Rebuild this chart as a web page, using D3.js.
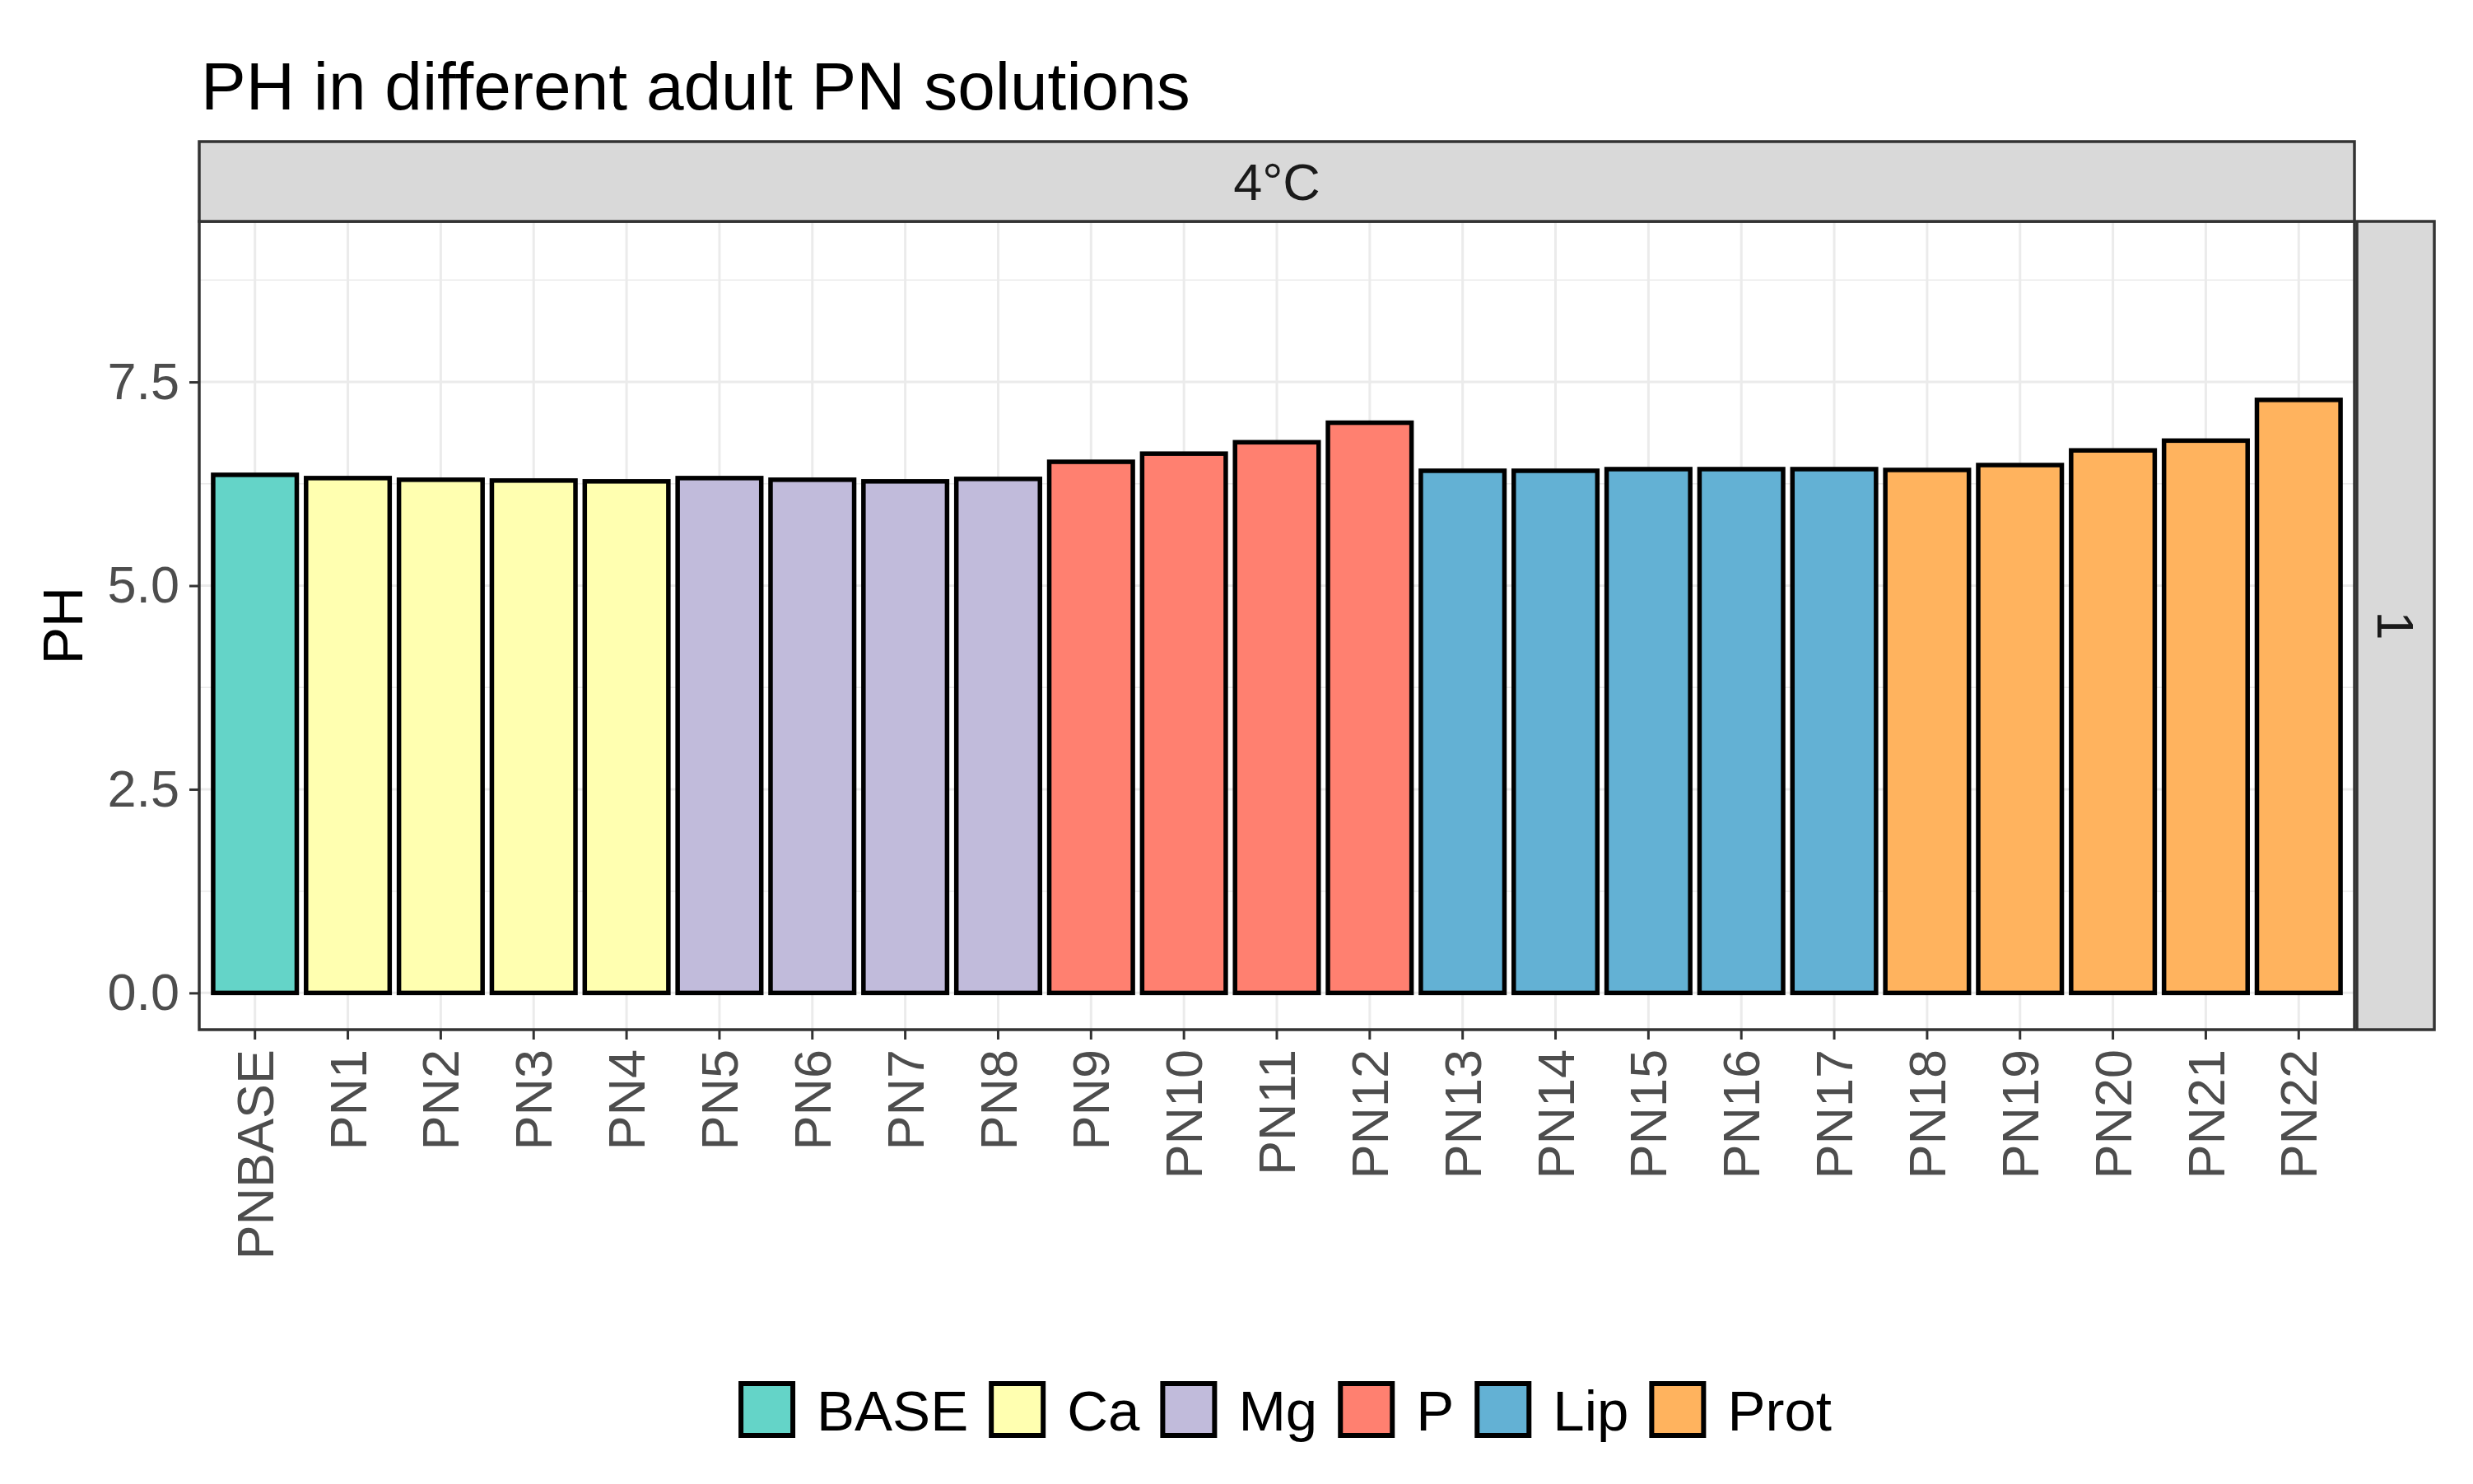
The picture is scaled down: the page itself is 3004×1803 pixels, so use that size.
<html>
<head>
	<meta charset="utf-8">
	<script src="https://cdn.jsdelivr.net/npm/d3@7/dist/d3.min.js" type="text/javascript"></script>
	<style>
		body { margin: 0; background: #fff; }
		text { font-family: "Liberation Sans", Arial, sans-serif; }
	</style>
</head>
<body>
	<div id="chart"></div>
<script>
	// values
	var solutions = ["PNBASE", "PN1", "PN2", "PN3", "PN4", "PN5", "PN6", "PN7", "PN8", "PN9", "PN10", "PN11",
		"PN12", "PN13", "PN14", "PN15", "PN16", "PN17", "PN18", "PN19", "PN20", "PN21", "PN22"];
	var phValues = [6.36, 6.32, 6.30, 6.29, 6.28, 6.32, 6.30, 6.28, 6.31, 6.52, 6.62, 6.76,
		7.00, 6.41, 6.41, 6.43, 6.43, 6.43, 6.42, 6.48, 6.66, 6.78, 7.28];
	var groupOf = ["BASE", "Ca", "Ca", "Ca", "Ca", "Mg", "Mg", "Mg", "Mg", "P", "P", "P",
		"P", "Lip", "Lip", "Lip", "Lip", "Lip", "Prot", "Prot", "Prot", "Prot", "Prot"];
	var groups = ["BASE", "Ca", "Mg", "P", "Lip", "Prot"];
	var groupColors = ["#64D4C8", "#FFFFB0", "#C1BBDB", "#FF8070", "#63B1D4", "#FFB35E"];
	var yTicks = [0, 2.5, 5, 7.5];
	var yMinorTicks = [1.25, 3.75, 6.25, 8.75];
	var titleText = "PH in different adult PN solutions";
	var facetCol = "4°C";
	var facetRow = "1";

	var W = 3004, H = 1803;
	var panel = {left: 242, right: 2860, top: 269, bottom: 1251};

	var svg = d3.select("#chart").append("svg")
		.attr("width", W)
		.attr("height", H);

	var x = d3.scaleBand()
		.domain(solutions)
		.range([panel.left, panel.right])
		.paddingInner(0.1)
		.paddingOuter(0.15);

	var y = d3.scaleLinear()
		.domain([-0.451, 9.471])
		.range([panel.bottom, panel.top]);

	var color = d3.scaleOrdinal().domain(groups).range(groupColors);

	var data = solutions.map(function(s, i) {
		return {name: s, value: phValues[i], group: groupOf[i]};
	});

	// title
	svg.append("text")
		.attr("x", 244)
		.attr("y", 133)
		.attr("font-size", 82)
		.attr("fill", "#000")
		.text(titleText);

	// grid
	var grid = svg.append("g");
	grid.selectAll(".minor").data(yMinorTicks).enter().append("line")
		.attr("x1", panel.left).attr("x2", panel.right)
		.attr("y1", function(d) { return y(d); })
		.attr("y2", function(d) { return y(d); })
		.attr("stroke", "#EBEBEB").attr("stroke-width", 1.5);
	grid.selectAll(".major").data(yTicks).enter().append("line")
		.attr("x1", panel.left).attr("x2", panel.right)
		.attr("y1", function(d) { return y(d); })
		.attr("y2", function(d) { return y(d); })
		.attr("stroke", "#EBEBEB").attr("stroke-width", 3);
	grid.selectAll(".vmajor").data(solutions).enter().append("line")
		.attr("x1", function(d) { return x(d) + x.bandwidth() / 2; })
		.attr("x2", function(d) { return x(d) + x.bandwidth() / 2; })
		.attr("y1", panel.top).attr("y2", panel.bottom)
		.attr("stroke", "#EBEBEB").attr("stroke-width", 3);

	// bars
	svg.append("g").selectAll("rect").data(data).enter().append("rect")
		.attr("x", function(d) { return x(d.name); })
		.attr("width", x.bandwidth())
		.attr("y", function(d) { return y(d.value); })
		.attr("height", function(d) { return y(0) - y(d.value); })
		.attr("fill", function(d) { return color(d.group); })
		.attr("stroke", "#000")
		.attr("stroke-width", 5.5);

	// panel border
	svg.append("rect")
		.attr("x", panel.left).attr("y", panel.top)
		.attr("width", panel.right - panel.left)
		.attr("height", panel.bottom - panel.top)
		.attr("fill", "none").attr("stroke", "#333333").attr("stroke-width", 3.5);

	// strips
	svg.append("rect")
		.attr("x", panel.left).attr("y", 172)
		.attr("width", panel.right - panel.left).attr("height", panel.top - 172)
		.attr("fill", "#D9D9D9").attr("stroke", "#333333").attr("stroke-width", 3.5);
	svg.append("text")
		.attr("x", (panel.left + panel.right) / 2)
		.attr("y", 243)
		.attr("text-anchor", "middle")
		.attr("font-size", 63)
		.attr("fill", "#1A1A1A")
		.text(facetCol);

	svg.append("rect")
		.attr("x", 2863).attr("y", panel.top)
		.attr("width", 2957 - 2863).attr("height", panel.bottom - panel.top)
		.attr("fill", "#D9D9D9").attr("stroke", "#333333").attr("stroke-width", 3.5);
	svg.append("text")
		.attr("transform", "translate(2910," + (panel.top + panel.bottom) / 2 + ") rotate(90)")
		.attr("text-anchor", "middle")
		.attr("dy", "0.35em")
		.attr("font-size", 63)
		.attr("fill", "#1A1A1A")
		.text(facetRow);

	// y axis
	var yAxis = svg.append("g")
		.attr("transform", "translate(" + panel.left + ",0)")
		.call(d3.axisLeft(y).tickValues(yTicks).tickFormat(d3.format(".1f")).tickSize(12).tickPadding(12));
	yAxis.select(".domain").remove();
	yAxis.selectAll(".tick line").attr("stroke", "#333333").attr("stroke-width", 3);
	yAxis.selectAll(".tick text")
		.attr("font-size", 63)
		.attr("font-family", "Liberation Sans, Arial, sans-serif")
		.attr("fill", "#4D4D4D");

	svg.append("text")
		.attr("transform", "translate(76," + (panel.top + panel.bottom) / 2 + ") rotate(-90)")
		.attr("text-anchor", "middle")
		.attr("dy", "0.35em")
		.attr("font-size", 68)
		.attr("fill", "#000")
		.text("PH");

	// x axis
	var xAxis = svg.append("g")
		.attr("transform", "translate(0," + panel.bottom + ")")
		.call(d3.axisBottom(x).tickSize(12));
	xAxis.select(".domain").remove();
	xAxis.selectAll(".tick line").attr("stroke", "#333333").attr("stroke-width", 3);
	xAxis.selectAll(".tick text")
		.attr("font-size", 63)
		.attr("font-family", "Liberation Sans, Arial, sans-serif")
		.attr("fill", "#4D4D4D")
		.attr("text-anchor", "end")
		.attr("transform", "translate(0,24) rotate(-90)")
		.attr("x", 0)
		.attr("y", 0)
		.attr("dy", "0.35em");

	// legend
	var legend = svg.append("g");
	var keySize = 69, gapText = 26, gapItem = 25;
	var items = legend.selectAll("g").data(groups).enter().append("g");
	items.append("rect")
		.attr("width", keySize - 6).attr("height", keySize - 6)
		.attr("x", 3).attr("y", 3)
		.attr("fill", function(d) { return color(d); })
		.attr("stroke", "#000").attr("stroke-width", 6);
	items.append("text")
		.attr("x", keySize + gapText)
		.attr("y", 60)
		.attr("font-size", 69)
		.attr("fill", "#000")
		.text(function(d) { return d; });
	var pos = 0, offsets = [];
	items.each(function() {
		offsets.push(pos);
		var tw = d3.select(this).select("text").node().getComputedTextLength();
		pos += keySize + gapText + tw + gapItem;
	});
	var total = pos - gapItem;
	var startX = 1561 - total / 2;
	items.attr("transform", function(d, i) { return "translate(" + (startX + offsets[i]) + ",1678)"; });
</script>
</body>
</html>
